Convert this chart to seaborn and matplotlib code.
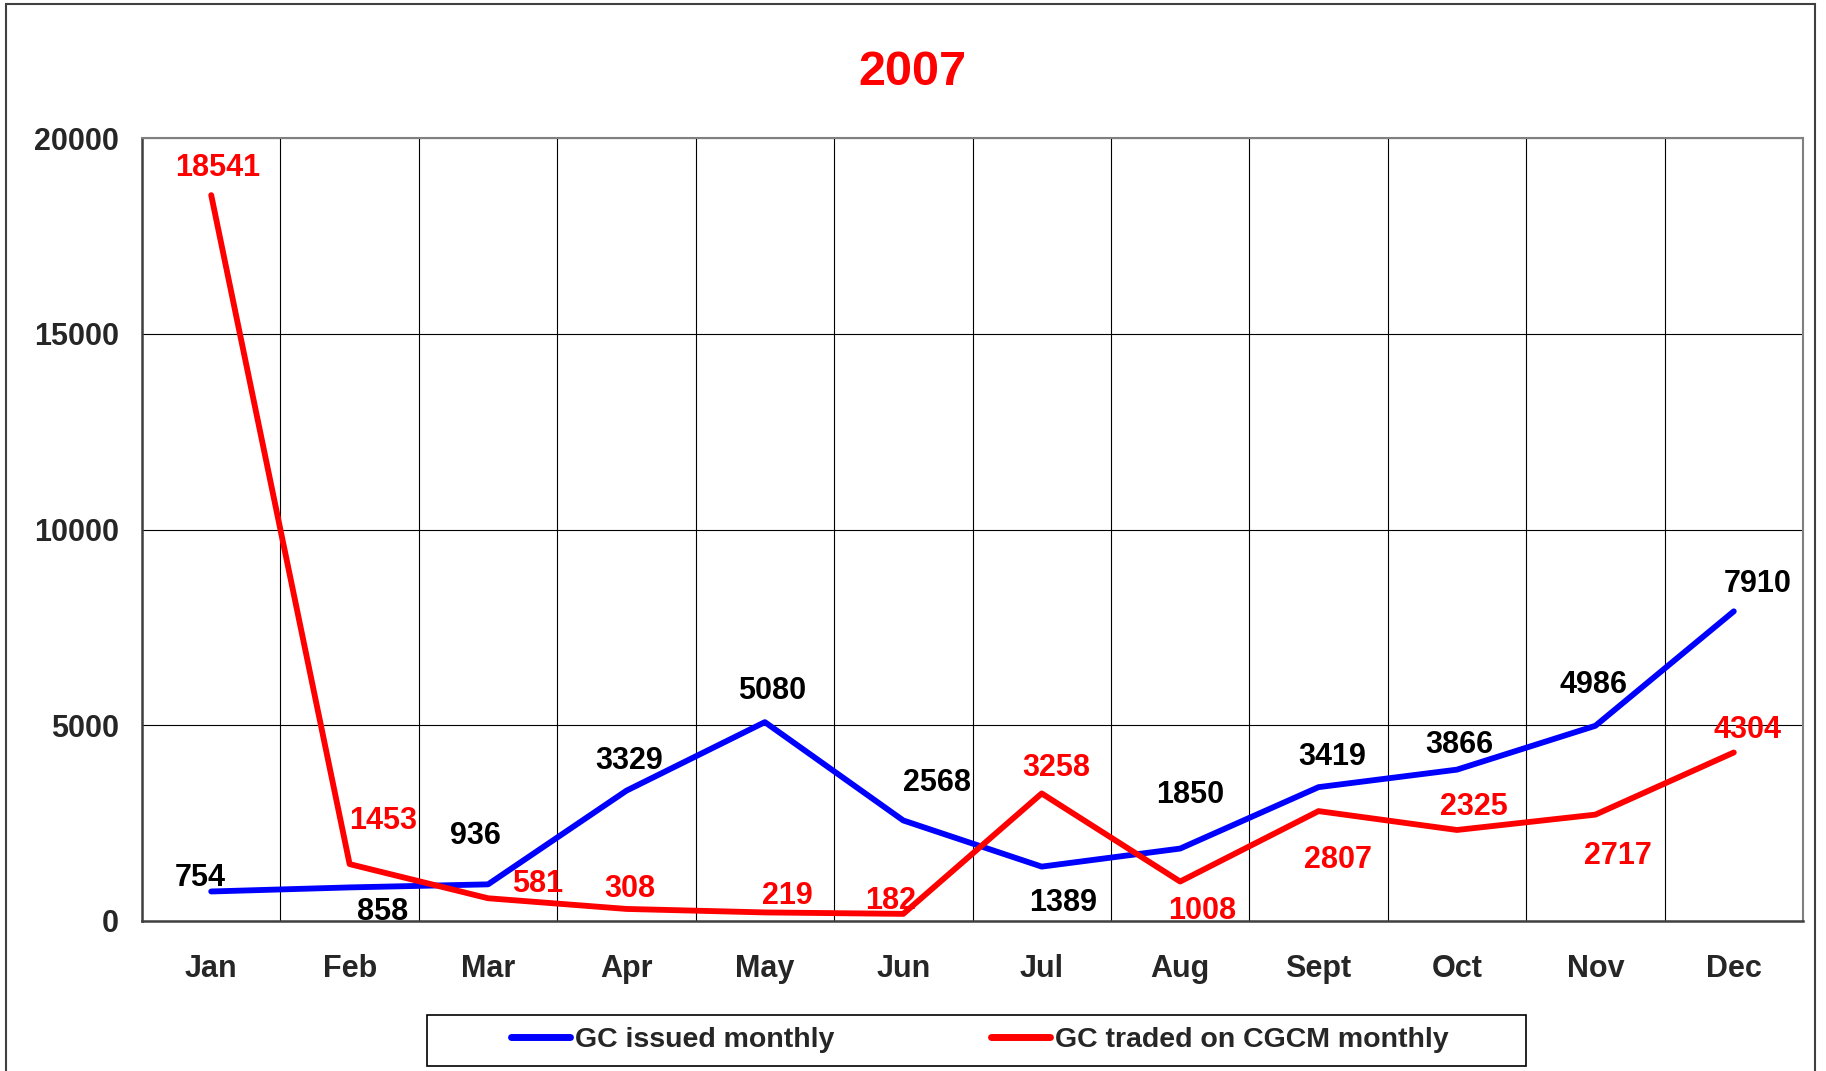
import numpy as np
import pandas as pd
import matplotlib.pyplot as plt
import seaborn as sns
from matplotlib.patches import Rectangle
from matplotlib.lines import Line2D

months = ['Jan', 'Feb', 'Mar', 'Apr', 'May', 'Jun', 'Jul', 'Aug', 'Sept', 'Oct', 'Nov', 'Dec']
gc_issued = [754, 858, 936, 3329, 5080, 2568, 1389, 1850, 3419, 3866, 4986, 7910]
gc_traded = [18541, 1453, 581, 308, 219, 182, 3258, 1008, 2807, 2325, 2717, 4304]
series_names = ['GC issued monthly', 'GC traded on CGCM monthly']
y_ticks = [0, 5000, 10000, 15000, 20000]

# where the value labels sit relative to their point, in pixels (right, up)
issued_off = [(-11, 16), (33, -22), (-13, 51), (3, 33), (7, 34), (34, 40),
              (21, -33), (10, 57), (14, 33), (2, 28), (-2, 44), (24, 30)]
traded_off = [(6, 30), (33, 46), (50, 17), (3, 23), (22, 19), (-13, 16),
              (15, 28), (22, -26), (19, -46), (17, 26), (23, -38), (14, 25)]

sns.set_style('white')
plt.rcParams['font.family'] = ['Liberation Sans', 'DejaVu Sans']
plt.rcParams['font.weight'] = 'bold'

W, H = 1826, 1071
fig = plt.figure(figsize=(W / 100, H / 100), dpi=100)
ax = fig.add_axes([142 / W, 1 - 921 / H, 1661 / W, 783 / H])

df = pd.DataFrame({
    'pos': list(range(len(months))) * 2,
    'value': gc_issued + gc_traded,
    'series': [series_names[0]] * len(months) + [series_names[1]] * len(months),
})
colors = {series_names[0]: '#0000ff', series_names[1]: '#ff0000'}
sns.lineplot(data=df, x='pos', y='value', hue='series', palette=colors,
             linewidth=4.2, ax=ax, legend=False, zorder=3)

ax.set_xlim(-0.5, len(months) - 0.5)
ax.set_ylim(0, 20000)
ax.set_xticks(range(len(months)))
ax.set_xticklabels(months)
ax.set_xticks(np.arange(-0.5, len(months), 1), minor=True)
ax.set_yticks(y_ticks)
ax.set_xlabel('')
ax.set_ylabel('')

ax.tick_params(axis='x', which='major', length=0, pad=24, labelsize=22)
ax.tick_params(axis='x', which='minor', length=6, width=1, direction='out', color='#404040')
ax.tick_params(axis='y', length=6, width=1, direction='out', pad=10.5, labelsize=22, color='#404040')
for lab in ax.get_xticklabels() + ax.get_yticklabels():
    lab.set_fontweight('bold')

ax.grid(False)
ax.grid(True, axis='y', which='major', color='black', linewidth=0.8)
ax.grid(True, axis='x', which='minor', color='black', linewidth=0.8)

for side in ['left', 'bottom']:
    ax.spines[side].set_color('#404040')
    ax.spines[side].set_linewidth(1.8)
for side in ['top', 'right']:
    ax.spines[side].set_color('#808080')
    ax.spines[side].set_linewidth(1.5)

px = 0.72
for vals, offs, col in [(gc_issued, issued_off, 'black'), (gc_traded, traded_off, '#ff0000')]:
    for i, (v, (dx, dy)) in enumerate(zip(vals, offs)):
        ax.annotate(str(v), xy=(i, v), xytext=(dx * px, (dy - 11) * px),
                    textcoords='offset points', ha='center', va='baseline',
                    fontsize=22, fontweight='bold', color=col, zorder=4)

fig.text(912 / W, 1 - 85 / H, '2007', ha='center', va='baseline',
         fontsize=35, fontweight='bold', color='#ff0000')

handles = [Line2D([], [], color=colors[n], linewidth=5) for n in series_names]
fig.legend(handles, series_names, loc='center left',
           bbox_to_anchor=(497 / W, 1 - 1040 / H), ncol=2, frameon=False,
           borderpad=0, handlelength=2.05, handletextpad=0.2, columnspacing=5.5,
           prop={'size': 20.5, 'weight': 'bold'})
fig.patches.append(Rectangle((427 / W, 1 - 1066 / H), 1099 / W, 51 / H,
                             transform=fig.transFigure, fill=False,
                             edgecolor='black', linewidth=1.2))
fig.patches.append(Rectangle((6 / W, 1 - 1080 / H), 1809 / W, 1076 / H,
                             transform=fig.transFigure, fill=False,
                             edgecolor='#404040', linewidth=1.5, clip_on=False))

fig.savefig('out.png', dpi=100)
